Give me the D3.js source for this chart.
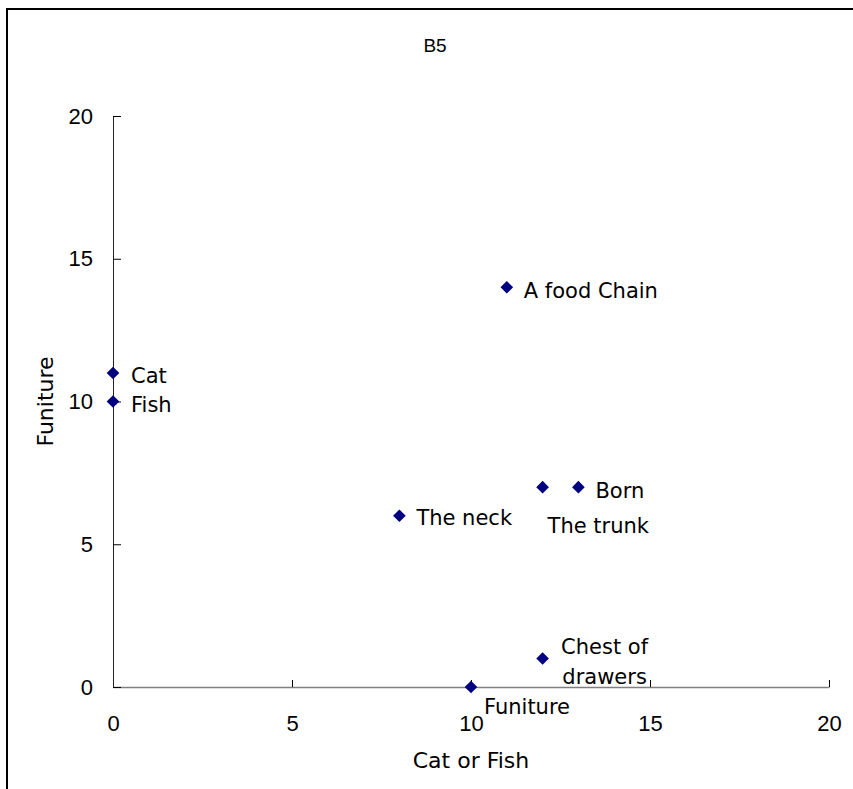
<!DOCTYPE html>
<html>
<head>
<meta charset="utf-8">
<script src="https://cdn.jsdelivr.net/npm/d3@7"></script>
<style>
  html, body { margin: 0; padding: 0; background: #fff; }
  svg text { fill: #000; }
  .lbl { font-family: "DejaVu Sans", sans-serif; font-size: 21px; }
  .tick text { font-family: "Liberation Sans", Arial, sans-serif; font-size: 22px; }
  .axis-title { font-family: "DejaVu Sans", sans-serif; font-size: 22px; }
  .title { font-family: "Liberation Sans", sans-serif; font-size: 19px; }
</style>
</head>
<body>
<div id="chart"></div>
<script>
const names = ["Cat", "Fish", "A food Chain", "The trunk", "Born", "The neck", "Chest of drawers", "Funiture"];
const xs = [0, 0, 11, 12, 13, 8, 12, 10];
const ys = [11, 10, 14, 7, 7, 6, 1, 0];
const xTicks = [0, 5, 10, 15, 20];
const yTicks = [0, 5, 10, 15, 20];

// where each label sits relative to its marker (px)
const labelNudge = {
  "Cat": { dx: 18, dy: 3 },
  "Fish": { dx: 18, dy: 3 },
  "A food Chain": { dx: 17, dy: 3 },
  "The trunk": { dx: 5, dy: 38 },
  "Born": { dx: 17, dy: 3 },
  "The neck": { dx: 17, dy: 2 },
  "Chest of drawers": { dx: 62, dy: 3, lines: ["Chest of", "drawers"], anchor: "middle" },
  "Funiture": { dx: 13, dy: 20 },
};

const data = names.map((n, i) => ({ name: n, x: xs[i], y: ys[i] }));

const W = 853, H = 789;
const plot = { left: 113, right: 829, top: 116, bottom: 687 };

const svg = d3.select("#chart").append("svg")
  .attr("width", W).attr("height", H);

svg.append("rect")
  .attr("x", 7).attr("y", 9)
  .attr("width", 900).attr("height", 900)
  .attr("fill", "#fff")
  .attr("stroke", "#000")
  .attr("stroke-width", 2);

const x = d3.scaleLinear().domain([0, 20]).range([plot.left, plot.right]);
const y = d3.scaleLinear().domain([0, 20]).range([plot.bottom, plot.top]);

const xAxis = svg.append("g")
  .attr("transform", `translate(0,${plot.bottom})`)
  .call(d3.axisBottom(x).tickValues(xTicks).tickSizeInner(-7).tickSizeOuter(0).tickPadding(28).tickFormat(d3.format("d")));
xAxis.select(".domain").attr("stroke", "#808080").attr("stroke-width", 1.5);
xAxis.selectAll(".tick line").attr("stroke", "#000");

const yAxis = svg.append("g")
  .attr("transform", `translate(${plot.left},0)`)
  .call(d3.axisLeft(y).tickValues(yTicks).tickSizeInner(-8).tickSizeOuter(0).tickPadding(20).tickFormat(d3.format("d")));
yAxis.select(".domain").attr("stroke", "#222");
yAxis.selectAll(".tick line").attr("stroke", "#000");

svg.append("text")
  .attr("class", "title")
  .attr("x", 435).attr("y", 52)
  .attr("text-anchor", "middle")
  .text("B5");

svg.append("text")
  .attr("class", "axis-title")
  .attr("x", (plot.left + plot.right) / 2)
  .attr("y", 768)
  .attr("text-anchor", "middle")
  .text("Cat or Fish");

svg.append("text")
  .attr("class", "axis-title")
  .attr("transform", `translate(53,${(plot.top + plot.bottom) / 2}) rotate(-90)`)
  .attr("text-anchor", "middle")
  .text("Funiture");

const pts = svg.append("g");
pts.selectAll("path").data(data).join("path")
  .attr("d", d3.symbol(d3.symbolSquare, 80))
  .attr("transform", (d) => `translate(${x(d.x)},${y(d.y)}) rotate(45)`)
  .attr("fill", "#000080");

const labels = svg.append("g");
data.forEach((d) => {
  const n = labelNudge[d.name];
  const t = labels.append("text")
    .attr("class", "lbl")
    .attr("x", x(d.x) + n.dx)
    .attr("y", y(d.y) + n.dy)
    .attr("dy", "0.35em")
    .attr("text-anchor", n.anchor || "start");
  if (n.lines) {
    t.attr("y", y(d.y) + n.dy - 15);
    n.lines.forEach((ln, i) => {
      t.append("tspan").attr("x", x(d.x) + n.dx).attr("dy", i === 0 ? "0.35em" : 30).text(ln);
    });
  } else {
    t.text(d.name);
  }
});
</script>
</body>
</html>
